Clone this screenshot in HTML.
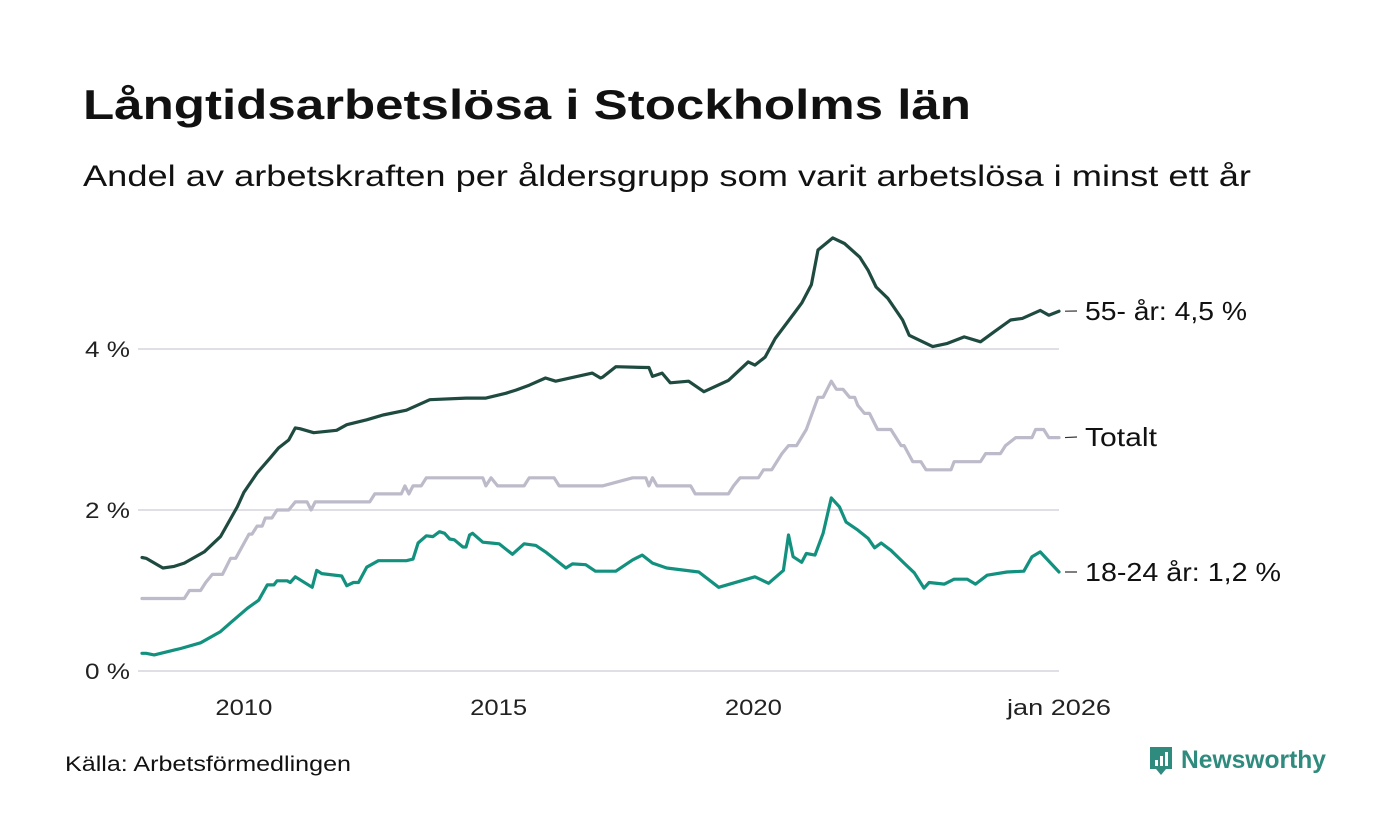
<!DOCTYPE html>
<html><head><meta charset="utf-8"><style>
html,body{margin:0;padding:0;background:#fff;}
svg{display:block;font-family:"Liberation Sans",sans-serif;}
</style></head><body>
<svg id="chart" width="1400" height="840" viewBox="0 0 1400 840">
<text x="83" y="119" font-size="42" font-weight="bold" fill="#111" textLength="888" lengthAdjust="spacingAndGlyphs">Långtidsarbetslösa i Stockholms län</text>
<text x="83" y="186" font-size="30" fill="#111" textLength="1168" lengthAdjust="spacingAndGlyphs">Andel av arbetskraften per åldersgrupp som varit arbetslösa i minst ett år</text>
<g id="grid"></g><g id="series"></g><g id="labels"></g>
<text x="65" y="771" font-size="21" fill="#111" textLength="286" lengthAdjust="spacingAndGlyphs">Källa: Arbetsförmedlingen</text>
<g>
<path d="M1150 747h22v22h-6l-5 6-5-6h-6z" fill="#2e8b7e"/>
<rect x="1155" y="760" width="3" height="6" fill="#fff"/><rect x="1160" y="756" width="3" height="10" fill="#fff"/><rect x="1165" y="752" width="3" height="14" fill="#fff"/>
<text x="1181" y="768" font-size="25" font-weight="bold" fill="#2e8b7e" textLength="145" lengthAdjust="spacingAndGlyphs">Newsworthy</text>
</g>
</svg>
<script>
const yTicks=[0,2,4];
const yTickLabels=["0 %","2 %","4 %"];
const xTicks=[2010,2015,2020,2026];
const xTickLabels=["2010","2015","2020","jan 2026"];
const oldYears=[2008.0,2008.08,2008.41,2008.63,2008.83,2009.22,2009.54,2009.87,2010.0,2010.26,2010.52,2010.68,2010.88,2011.01,2011.1,2011.37,2011.82,2012.02,2012.41,2012.73,2013.19,2013.65,2014.36,2014.75,2015.14,2015.34,2015.6,2015.92,2016.12,2016.84,2017.0,2017.04,2017.3,2017.89,2017.95,2018.02,2018.21,2018.37,2018.73,2019.03,2019.51,2019.9,2020.03,2020.23,2020.43,2020.82,2020.95,2021.14,2021.27,2021.56,2021.79,2022.09,2022.25,2022.41,2022.64,2022.93,2023.06,2023.52,2023.81,2024.14,2024.46,2024.72,2025.05,2025.28,2025.63,2025.8,2026.0];
const oldValues=[1.41,1.4,1.28,1.3,1.34,1.48,1.67,2.04,2.22,2.46,2.65,2.77,2.87,3.02,3.01,2.96,2.99,3.06,3.12,3.18,3.24,3.37,3.39,3.39,3.45,3.49,3.55,3.64,3.6,3.7,3.64,3.65,3.78,3.77,3.77,3.66,3.7,3.58,3.6,3.47,3.61,3.84,3.8,3.9,4.13,4.46,4.57,4.8,5.23,5.38,5.31,5.14,4.98,4.77,4.63,4.36,4.17,4.03,4.07,4.15,4.09,4.21,4.36,4.38,4.48,4.42,4.47];
const totYears=[2008.0,2008.83,2008.93,2009.15,2009.25,2009.38,2009.58,2009.74,2009.84,2010.1,2010.16,2010.26,2010.36,2010.42,2010.55,2010.65,2010.88,2011.01,2011.24,2011.32,2011.4,2012.47,2012.57,2013.09,2013.16,2013.24,2013.32,2013.48,2013.58,2014.69,2014.75,2014.85,2014.98,2015.5,2015.6,2016.09,2016.19,2017.04,2017.63,2017.89,2017.95,2018.02,2018.11,2018.24,2018.77,2018.86,2019.51,2019.61,2019.74,2020.1,2020.2,2020.36,2020.56,2020.69,2020.85,2021.04,2021.27,2021.37,2021.53,2021.63,2021.76,2021.89,2021.99,2022.05,2022.18,2022.28,2022.44,2022.7,2022.9,2022.96,2023.13,2023.29,2023.39,2023.88,2023.94,2024.46,2024.56,2024.85,2024.95,2025.15,2025.47,2025.54,2025.7,2025.8,2026.0];
const totValues=[0.9,0.9,1.0,1.0,1.1,1.2,1.2,1.4,1.4,1.7,1.7,1.8,1.8,1.9,1.9,2.0,2.0,2.1,2.1,2.0,2.1,2.1,2.2,2.2,2.3,2.2,2.3,2.3,2.4,2.4,2.3,2.4,2.3,2.3,2.4,2.4,2.3,2.3,2.4,2.4,2.3,2.4,2.3,2.3,2.3,2.2,2.2,2.3,2.4,2.4,2.5,2.5,2.7,2.8,2.8,3.0,3.4,3.4,3.6,3.5,3.5,3.4,3.4,3.3,3.2,3.2,3.0,3.0,2.8,2.8,2.6,2.6,2.5,2.5,2.6,2.6,2.7,2.7,2.8,2.9,2.9,3.0,3.0,2.9,2.9];
const youngYears=[2008.0,2008.08,2008.24,2008.63,2008.76,2009.15,2009.54,2009.74,2010.07,2010.29,2010.46,2010.59,2010.65,2010.85,2010.91,2011.01,2011.34,2011.43,2011.53,2011.92,2012.02,2012.15,2012.25,2012.41,2012.64,2013.06,2013.19,2013.32,2013.42,2013.58,2013.71,2013.84,2013.94,2014.04,2014.13,2014.3,2014.36,2014.43,2014.49,2014.69,2014.85,2015.01,2015.27,2015.5,2015.73,2015.92,2016.12,2016.32,2016.45,2016.71,2016.9,2017.0,2017.3,2017.63,2017.82,2018.02,2018.3,2018.93,2019.32,2020.03,2020.3,2020.59,2020.69,2020.78,2020.95,2021.04,2021.21,2021.37,2021.53,2021.69,2021.82,2022.05,2022.25,2022.38,2022.51,2022.7,2022.96,2023.16,2023.35,2023.45,2023.75,2023.94,2024.2,2024.36,2024.59,2024.98,2025.31,2025.47,2025.63,2026.0];
const youngValues=[0.22,0.22,0.2,0.26,0.28,0.35,0.49,0.6,0.78,0.88,1.07,1.07,1.12,1.12,1.1,1.17,1.04,1.25,1.21,1.18,1.06,1.1,1.1,1.29,1.37,1.37,1.37,1.39,1.59,1.68,1.67,1.73,1.71,1.64,1.63,1.54,1.54,1.69,1.71,1.6,1.59,1.58,1.45,1.58,1.56,1.48,1.38,1.28,1.33,1.32,1.24,1.24,1.24,1.38,1.44,1.34,1.28,1.23,1.04,1.17,1.09,1.25,1.69,1.42,1.35,1.46,1.44,1.71,2.15,2.04,1.85,1.75,1.65,1.53,1.59,1.5,1.34,1.22,1.03,1.1,1.08,1.14,1.14,1.08,1.19,1.23,1.24,1.42,1.48,1.23];
const seriesNames=["55- år: 4,5 %","Totalt","18-24 år: 1,2 %"];

const NS="http://www.w3.org/2000/svg";
const x0=2008.0,x1=2026.0,px0=142,px1=1059;
const py0=671,pyPerUnit=80.5;
const labelLens={0:162,1:72,2:196};
const xLabelLens={0:57,1:57,2:57,3:104};
function xScale(v){return px0+(v-x0)*(px1-px0)/(x1-x0);}
function yScale(v){return py0-v*pyPerUnit;}
function mk(tag,attrs,parent){const e=document.createElementNS(NS,tag);for(const k in attrs)e.setAttribute(k,attrs[k]);parent.appendChild(e);return e;}
const grid=document.getElementById('grid'),ser=document.getElementById('series'),lab=document.getElementById('labels');
yTicks.forEach((t,i)=>{
  const l=mk('line',{x1:138,x2:1059,y1:yScale(t),y2:yScale(t),stroke:'#e0dfe6','stroke-width':2},grid);
  
  
  const tx=mk('text',{x:130,y:yScale(t)+8,'text-anchor':'end','font-size':22,fill:'#222',textLength:45,lengthAdjust:'spacingAndGlyphs'},grid);
  tx.textContent=yTickLabels[i];
  
  
});
xTicks.forEach((t,i)=>{
  const tx=mk('text',{x:xScale(t),y:715,'text-anchor':'middle','font-size':22,fill:'#222',textLength:xLabelLens[i],lengthAdjust:'spacingAndGlyphs'},grid);
  tx.textContent=xTickLabels[i];
  
  
});
const defs=[[totYears,totValues,'#bdbac9','totalt-line',1],[youngYears,youngValues,'#13917f','age-18-24-line',2],[oldYears,oldValues,'#1f4a40','age-55-line',0]];
defs.forEach(d=>{
  const [ys,vs,col,name,li]=d;
  const pts=ys.map((y,i)=>xScale(y).toFixed(1)+','+yScale(vs[i]).toFixed(1)).join(' ');
  const p=mk('polyline',{points:pts,fill:'none',stroke:col,'stroke-width':3.2,'stroke-linejoin':'round','stroke-linecap':'round'},ser);
  
  
  const ey=yScale(vs[vs.length-1]);
  const ly={0:311,1:437,2:572}[li];
  const dl=mk('line',{x1:1065,y1:ey,x2:1077,y2:ly,stroke:'#333','stroke-width':1.2},lab);
  
  
  const t=mk('text',{x:1085,y:ly+9,'font-size':26,fill:'#111',textLength:labelLens[li],lengthAdjust:'spacingAndGlyphs'},lab);
  t.textContent=seriesNames[li];
  
  
});
</script>
</body></html>
